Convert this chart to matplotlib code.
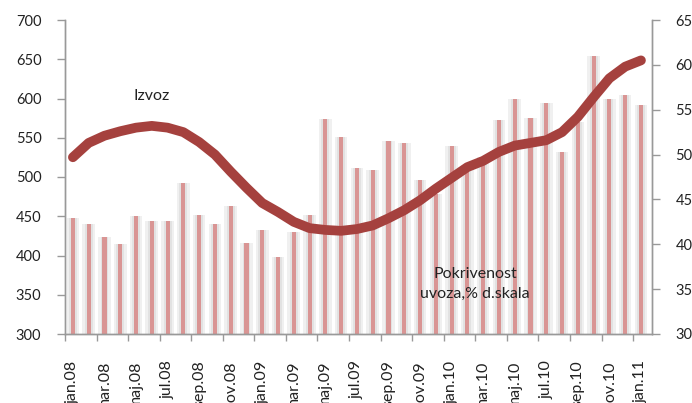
import matplotlib
matplotlib.use('Agg')
import matplotlib.pyplot as plt
import numpy as np

plt.rcParams['font.family'] = ['Lato', 'DejaVu Sans']

# mjesečni podaci jan.08 - jan.11
months = ['jan', 'feb', 'mar', 'apr', 'maj', 'jun', 'jul', 'avg', 'sep', 'okt', 'nov', 'dec']
years = ['08', '09', '10', '11']
labels = [m + '.' + y for y in years for m in months][:37]

izvoz = [448, 440, 424, 415, 450, 444, 444, 492, 452, 440, 463, 416,
         432, 398, 430, 452, 574, 551, 512, 509, 546, 543, 496, 478,
         540, 515, 525, 573, 599, 575, 594, 532, 570, 654, 599, 604, 592]

pokrivenost = [49.7, 51.3, 52.1, 52.6, 53.0, 53.2, 53.0, 52.5, 51.4, 50.0, 48.1, 46.3,
               44.6, 43.6, 42.5, 41.8, 41.6, 41.5, 41.7, 42.1, 42.9, 43.8, 44.9, 46.2,
               47.4, 48.6, 49.3, 50.3, 51.0, 51.3, 51.6, 52.5, 54.2, 56.4, 58.5, 59.8, 60.5]

x = np.arange(len(izvoz))

fig = plt.figure(figsize=(6.92, 4.03), dpi=100)
ax = fig.add_axes([65 / 692, 69 / 403, 587 / 692, 314 / 403])

# siva "sjena" oko stupaca pa crveni stupci
ax.bar(x, np.array(izvoz) - 300, bottom=300, width=0.8, color='#f0f0f0', zorder=1)
ax.bar(x, np.array(izvoz) - 300, bottom=300, width=0.5, color='#e2e2e2', zorder=1)
ax.bar(x, np.array(izvoz) - 300, bottom=300, width=0.26, color='#d99594', zorder=2)

ax.set_ylim(300, 700)
ax.set_yticks(np.arange(300, 701, 50))
ax.set_xlim(-0.5, 36.7)
ax.set_xticks(x[::2])
ax.set_xticklabels(labels[::2], rotation=90, fontsize=11.5, color='#222222')
ax.set_xticks(np.arange(-0.5, 37, 2), minor=True)
ax.tick_params(axis='x', which='major', length=0, pad=19)
ax.tick_params(axis='x', which='minor', length=5, color='#999999', width=1)
ax.tick_params(axis='y', length=6, color='#999999', width=1, labelsize=10.5,
               labelcolor='#222222', pad=11)

ax2 = ax.twinx()
ax2.plot(x, pokrivenost, color='#a5413e', linewidth=7, solid_capstyle='round',
         solid_joinstyle='round', zorder=3)
ax2.set_ylim(30, 65)
ax2.set_yticks(np.arange(30, 66, 5))
ax2.tick_params(axis='y', length=6, color='#999999', width=1, labelsize=10.5,
                labelcolor='#222222', pad=11)

for a in (ax, ax2):
    a.spines['top'].set_visible(False)
    for s in ('left', 'right', 'bottom'):
        a.spines[s].set_color('#999999')
        a.spines[s].set_linewidth(1)

ax2.text(5, 56.5, 'Izvoz', ha='center', va='center', fontsize=11.5, color='#222222')
ax2.text(25.5, 35.6, 'Pokrivenost\nuvoza,% d.skala', ha='center', va='center',
         fontsize=11.5, color='#222222', linespacing=1.55)

fig.savefig('out.png', dpi=100)
